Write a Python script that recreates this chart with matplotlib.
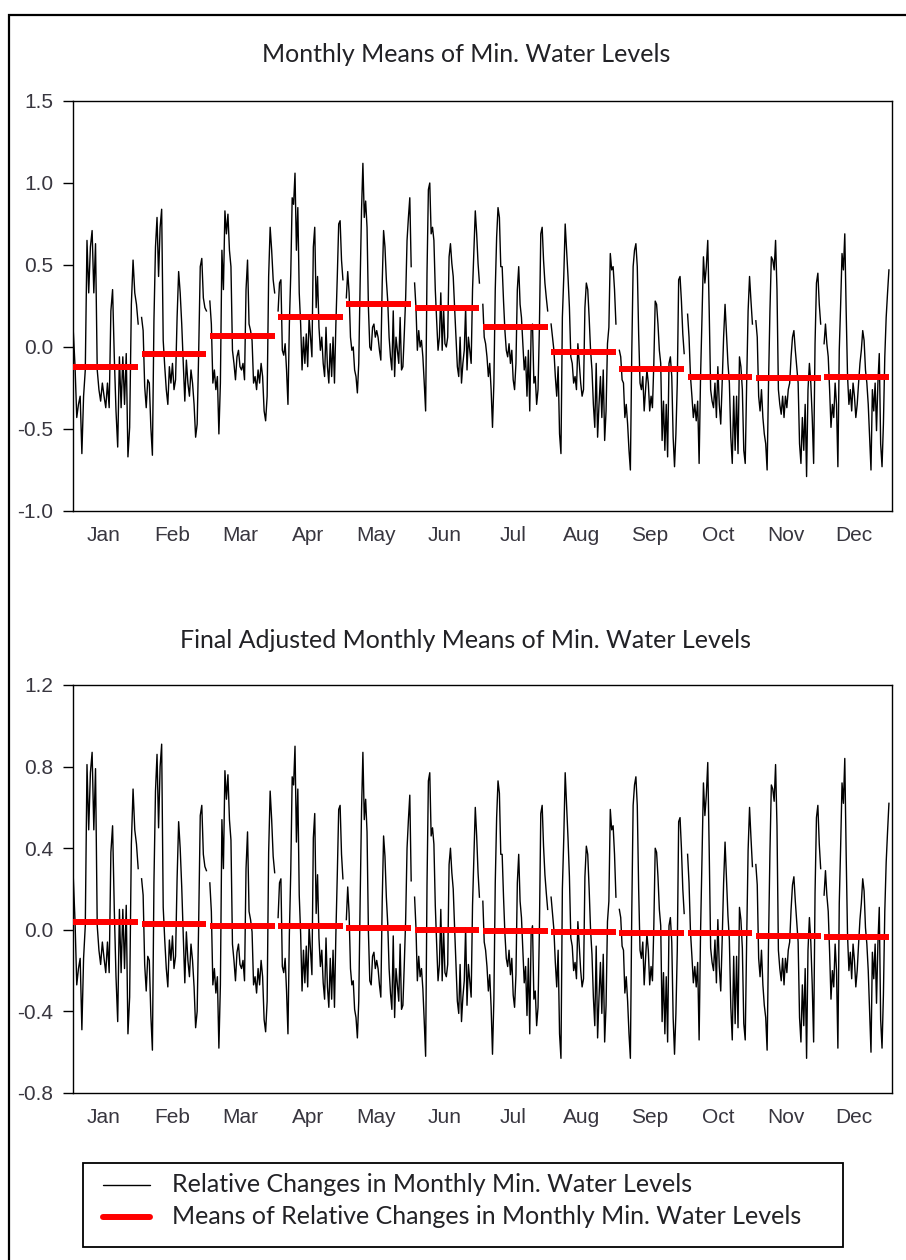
import numpy as np
import matplotlib.pyplot as plt
from matplotlib.lines import Line2D
from matplotlib.patches import Rectangle

month_labels = ['Jan', 'Feb', 'Mar', 'Apr', 'May', 'Jun',
                'Jul', 'Aug', 'Sep', 'Oct', 'Nov', 'Dec']

# relative changes in monthly min. water levels, one value per year
jan_raw = [0.09, -0.12, -0.43, -0.35, -0.30, -0.65, -0.30, -0.14, 0.65, 0.33, 0.61, 0.71, 0.33, 0.63, -0.14, -0.26, -0.33, -0.22, -0.30, -0.37, -0.22, -0.37, 0.22, 0.35, -0.06, -0.39, -0.61, -0.06, -0.37, -0.06, -0.35, -0.04, -0.67, -0.49, 0.26, 0.53, 0.33, 0.26, 0.14]
feb_raw = [0.18, 0.10, -0.24, -0.37, -0.20, -0.22, -0.49, -0.66, 0.16, 0.61, 0.79, 0.43, 0.73, 0.84, 0.04, -0.12, -0.26, -0.35, -0.12, -0.22, -0.10, -0.26, -0.20, 0.18, 0.46, 0.33, 0.14, -0.10, -0.33, -0.08, -0.22, -0.30, -0.14, -0.22, -0.35, -0.55, -0.47, -0.02, 0.49, 0.54, 0.30, 0.24, 0.22]
mar_raw = [0.28, 0.14, -0.22, -0.14, -0.26, -0.18, -0.53, -0.22, 0.59, 0.35, 0.83, 0.69, 0.81, 0.59, 0.49, -0.02, -0.10, -0.20, -0.06, -0.02, -0.12, -0.14, -0.10, -0.20, 0.35, 0.53, 0.14, 0.10, 0.04, -0.22, -0.18, -0.26, -0.14, -0.22, -0.10, -0.18, -0.39, -0.45, -0.30, 0.43, 0.73, 0.59, 0.41, 0.33]
apr_raw = [0.22, 0.39, 0.41, -0.02, -0.05, 0.02, -0.14, -0.35, 0.14, 0.45, 0.91, 0.87, 1.06, 0.59, 0.85, 0.33, 0.14, -0.14, 0.06, -0.10, 0.08, -0.12, 0.18, 0.06, -0.06, 0.61, 0.73, 0.24, 0.43, 0.12, -0.02, 0.06, -0.10, -0.18, 0.12, -0.12, -0.22, 0.02, -0.18, 0.06, -0.22, 0.14, 0.43, 0.75, 0.77, 0.53, 0.41]
may_raw = [0.30, 0.46, 0.33, 0.06, -0.02, 0.00, -0.14, -0.18, -0.28, -0.10, 0.39, 0.83, 1.12, 0.79, 0.89, 0.73, 0.24, 0.00, -0.02, 0.12, 0.14, 0.06, 0.10, 0.06, -0.02, -0.08, 0.39, 0.71, 0.61, 0.41, 0.28, 0.06, -0.06, -0.14, 0.22, -0.18, 0.06, -0.02, -0.10, 0.18, -0.14, -0.12, 0.08, 0.30, 0.65, 0.79, 0.91, 0.49]
jun_raw = [0.39, 0.24, -0.02, 0.10, 0.00, 0.04, -0.06, -0.22, -0.39, 0.45, 0.96, 1.00, 0.69, 0.73, 0.65, 0.35, 0.16, -0.02, 0.06, 0.33, -0.02, 0.24, 0.02, 0.00, 0.06, 0.55, 0.63, 0.51, 0.43, 0.24, 0.06, -0.12, -0.18, 0.06, -0.22, -0.10, -0.02, 0.24, -0.14, 0.06, -0.02, -0.10, 0.35, 0.59, 0.83, 0.69, 0.51, 0.39]
jul_raw = [0.26, 0.06, 0.02, -0.06, -0.18, -0.10, -0.26, -0.49, -0.22, 0.35, 0.67, 0.85, 0.79, 0.49, 0.49, 0.28, 0.10, -0.02, -0.06, 0.02, -0.10, -0.02, -0.20, -0.26, -0.10, 0.35, 0.49, 0.26, 0.18, 0.02, -0.14, -0.06, -0.30, -0.02, -0.39, 0.10, 0.14, -0.22, -0.18, -0.35, -0.26, 0.12, 0.69, 0.73, 0.53, 0.39, 0.30, 0.22]
aug_raw = [0.14, 0.06, -0.02, -0.18, -0.30, -0.12, -0.53, -0.65, 0.18, 0.43, 0.75, 0.59, 0.43, 0.24, -0.06, -0.10, -0.22, -0.18, -0.26, 0.02, -0.10, -0.22, -0.30, -0.26, 0.24, 0.39, 0.35, 0.18, -0.02, -0.14, -0.35, -0.49, -0.10, -0.55, -0.35, -0.18, -0.43, -0.14, -0.57, -0.39, 0.02, 0.12, 0.57, 0.47, 0.49, 0.35, 0.14]
sep_raw = [-0.02, -0.06, -0.20, -0.22, -0.43, -0.35, -0.47, -0.63, -0.75, -0.04, 0.49, 0.59, 0.63, 0.49, 0.08, -0.22, -0.26, -0.18, -0.39, -0.26, -0.14, -0.22, -0.39, -0.30, -0.37, -0.10, 0.28, 0.26, 0.14, -0.02, -0.10, -0.57, -0.33, -0.63, -0.35, -0.67, -0.10, -0.06, -0.18, -0.55, -0.73, -0.53, -0.22, 0.41, 0.43, 0.28, 0.08, -0.04]
oct_raw = [0.20, 0.06, -0.18, -0.30, -0.43, -0.35, -0.45, -0.33, -0.71, -0.18, 0.18, 0.55, 0.39, 0.49, 0.65, 0.22, -0.26, -0.33, -0.37, -0.22, -0.43, -0.12, -0.35, -0.47, -0.22, 0.06, 0.26, 0.08, -0.10, -0.22, -0.55, -0.71, -0.30, -0.63, -0.30, -0.65, -0.06, -0.12, -0.26, -0.63, -0.71, -0.22, 0.22, 0.43, 0.28, 0.14]
nov_raw = [0.16, 0.06, -0.30, -0.39, -0.26, -0.43, -0.53, -0.59, -0.75, -0.22, 0.22, 0.55, 0.53, 0.47, 0.65, 0.35, -0.26, -0.35, -0.41, -0.30, -0.43, -0.30, -0.37, -0.26, -0.22, -0.06, 0.06, 0.10, -0.02, -0.12, -0.22, -0.59, -0.71, -0.43, -0.63, -0.35, -0.79, -0.26, -0.10, -0.22, -0.43, -0.71, 0.02, 0.39, 0.45, 0.26, 0.14]
dec_raw = [0.02, 0.14, 0.02, -0.06, -0.26, -0.49, -0.35, -0.43, -0.22, -0.35, -0.73, -0.02, 0.26, 0.57, 0.47, 0.69, 0.22, -0.18, -0.35, -0.26, -0.39, -0.22, -0.30, -0.43, -0.35, -0.22, -0.10, -0.02, 0.10, 0.04, -0.14, -0.22, -0.35, -0.55, -0.75, -0.26, -0.39, -0.22, -0.51, -0.22, -0.04, -0.59, -0.73, -0.47, -0.06, 0.18, 0.33, 0.47]

# final adjusted series
jan_adj = [0.25, 0.04, -0.27, -0.19, -0.14, -0.49, -0.14, 0.02, 0.81, 0.49, 0.77, 0.87, 0.49, 0.79, 0.02, -0.10, -0.17, -0.06, -0.14, -0.21, -0.06, -0.21, 0.38, 0.51, 0.10, -0.23, -0.45, 0.10, -0.21, 0.10, -0.19, 0.12, -0.51, -0.33, 0.42, 0.69, 0.49, 0.42, 0.30]
feb_adj = [0.25, 0.17, -0.17, -0.30, -0.13, -0.15, -0.42, -0.59, 0.23, 0.68, 0.86, 0.50, 0.80, 0.91, 0.11, -0.05, -0.19, -0.28, -0.05, -0.15, -0.03, -0.19, -0.13, 0.25, 0.53, 0.40, 0.21, -0.03, -0.26, -0.01, -0.15, -0.23, -0.07, -0.15, -0.28, -0.48, -0.40, 0.05, 0.56, 0.61, 0.37, 0.31, 0.29]
mar_adj = [0.23, 0.09, -0.27, -0.19, -0.31, -0.23, -0.58, -0.27, 0.54, 0.30, 0.78, 0.64, 0.76, 0.54, 0.44, -0.07, -0.15, -0.25, -0.11, -0.07, -0.17, -0.19, -0.15, -0.25, 0.30, 0.48, 0.09, 0.05, -0.01, -0.27, -0.23, -0.31, -0.19, -0.27, -0.15, -0.23, -0.44, -0.50, -0.35, 0.38, 0.68, 0.54, 0.36, 0.28]
apr_adj = [0.06, 0.23, 0.25, -0.18, -0.21, -0.14, -0.30, -0.51, -0.02, 0.29, 0.75, 0.71, 0.90, 0.43, 0.69, 0.17, -0.02, -0.30, -0.10, -0.26, -0.08, -0.28, 0.02, -0.10, -0.22, 0.45, 0.57, 0.08, 0.27, -0.04, -0.18, -0.10, -0.26, -0.34, -0.04, -0.28, -0.38, -0.14, -0.34, -0.10, -0.38, -0.02, 0.27, 0.59, 0.61, 0.37, 0.25]
may_adj = [0.05, 0.21, 0.08, -0.19, -0.27, -0.25, -0.39, -0.43, -0.53, -0.35, 0.14, 0.58, 0.87, 0.54, 0.64, 0.48, -0.01, -0.25, -0.27, -0.13, -0.11, -0.19, -0.15, -0.19, -0.27, -0.33, 0.14, 0.46, 0.36, 0.16, 0.03, -0.19, -0.31, -0.39, -0.03, -0.43, -0.19, -0.27, -0.35, -0.07, -0.39, -0.37, -0.17, 0.05, 0.40, 0.54, 0.66, 0.24]
jun_adj = [0.16, 0.01, -0.25, -0.13, -0.23, -0.19, -0.29, -0.45, -0.62, 0.22, 0.73, 0.77, 0.46, 0.50, 0.42, 0.12, -0.07, -0.25, -0.17, 0.10, -0.25, 0.01, -0.21, -0.23, -0.17, 0.32, 0.40, 0.28, 0.20, 0.01, -0.17, -0.35, -0.41, -0.17, -0.45, -0.33, -0.25, 0.01, -0.37, -0.17, -0.25, -0.33, 0.12, 0.36, 0.60, 0.46, 0.28, 0.16]
jul_adj = [0.14, -0.06, -0.10, -0.18, -0.30, -0.22, -0.38, -0.61, -0.34, 0.23, 0.55, 0.73, 0.67, 0.37, 0.37, 0.16, -0.02, -0.14, -0.18, -0.10, -0.22, -0.14, -0.32, -0.38, -0.22, 0.23, 0.37, 0.14, 0.06, -0.10, -0.26, -0.18, -0.42, -0.14, -0.51, -0.02, 0.02, -0.34, -0.30, -0.47, -0.38, 0.00, 0.57, 0.61, 0.41, 0.27, 0.18, 0.10]
aug_adj = [0.16, 0.08, 0.00, -0.16, -0.28, -0.10, -0.51, -0.63, 0.20, 0.45, 0.77, 0.61, 0.45, 0.26, -0.04, -0.08, -0.20, -0.16, -0.24, 0.04, -0.08, -0.20, -0.28, -0.24, 0.26, 0.41, 0.37, 0.20, 0.00, -0.12, -0.33, -0.47, -0.08, -0.53, -0.33, -0.16, -0.41, -0.12, -0.55, -0.37, 0.04, 0.14, 0.59, 0.49, 0.51, 0.37, 0.16]
sep_adj = [0.10, 0.06, -0.08, -0.10, -0.31, -0.23, -0.35, -0.51, -0.63, 0.08, 0.61, 0.71, 0.75, 0.61, 0.20, -0.10, -0.14, -0.06, -0.27, -0.14, -0.02, -0.10, -0.27, -0.18, -0.25, 0.02, 0.40, 0.38, 0.26, 0.10, 0.02, -0.45, -0.21, -0.51, -0.23, -0.55, 0.02, 0.06, -0.06, -0.43, -0.61, -0.41, -0.10, 0.53, 0.55, 0.40, 0.20, 0.08]
oct_adj = [0.37, 0.23, -0.01, -0.13, -0.26, -0.18, -0.28, -0.16, -0.54, -0.01, 0.35, 0.72, 0.56, 0.66, 0.82, 0.39, -0.09, -0.16, -0.20, -0.05, -0.26, 0.05, -0.18, -0.30, -0.05, 0.23, 0.43, 0.25, 0.07, -0.05, -0.38, -0.54, -0.13, -0.46, -0.13, -0.48, 0.11, 0.05, -0.09, -0.46, -0.54, -0.05, 0.39, 0.60, 0.45, 0.31]
nov_adj = [0.32, 0.22, -0.14, -0.23, -0.10, -0.27, -0.37, -0.43, -0.59, -0.06, 0.38, 0.71, 0.69, 0.63, 0.81, 0.51, -0.10, -0.19, -0.25, -0.14, -0.27, -0.14, -0.21, -0.10, -0.06, 0.10, 0.22, 0.26, 0.14, 0.04, -0.06, -0.43, -0.55, -0.27, -0.47, -0.19, -0.63, -0.10, 0.06, -0.06, -0.27, -0.55, 0.18, 0.55, 0.61, 0.42, 0.30]
dec_adj = [0.17, 0.29, 0.17, 0.09, -0.11, -0.34, -0.20, -0.28, -0.07, -0.20, -0.58, 0.13, 0.41, 0.72, 0.62, 0.84, 0.37, -0.03, -0.20, -0.11, -0.24, -0.07, -0.15, -0.28, -0.20, -0.07, 0.05, 0.13, 0.25, 0.19, 0.01, -0.07, -0.20, -0.40, -0.60, -0.11, -0.24, -0.07, -0.36, -0.07, 0.11, -0.44, -0.58, -0.32, 0.09, 0.33, 0.48, 0.62]

# red mean levels per month
raw_means = [-0.12, -0.04, 0.065, 0.18, 0.265, 0.235, 0.12, -0.03, -0.135, -0.18, -0.19, -0.18]
adj_means = [0.04, 0.03, 0.02, 0.02, 0.01, 0.0, -0.005, -0.01, -0.015, -0.015, -0.03, -0.035]

raw_series = [jan_raw, feb_raw, mar_raw, apr_raw, may_raw, jun_raw,
              jul_raw, aug_raw, sep_raw, oct_raw, nov_raw, dec_raw]
adj_series = [jan_adj, feb_adj, mar_adj, apr_adj, may_adj, jun_adj,
              jul_adj, aug_adj, sep_adj, oct_adj, nov_adj, dec_adj]

legend_labels = ['Relative Changes in Monthly Min. Water Levels',
                 'Means of Relative Changes in Monthly Min. Water Levels']

W, H = 906, 1260
TICK_FONT = ['Liberation Sans', 'DejaVu Sans']
TITLE_FONT = ['Lato', 'DejaVu Sans']
TEXT_COL = '#38363f'
TITLE_COL = '#222226'
RED = '#ff0000'
SPAN = 0.955  # share of each month slot covered by its years


def seasonal_panel(ax, series, means, ylim, yticks):
    for m, vals in enumerate(series):
        xs = m + np.linspace(0.005, SPAN, len(vals))
        ax.plot(xs, vals, color='black', lw=1.0, zorder=2)
        ax.plot([m + 0.005, m + SPAN], [means[m], means[m]], color=RED,
                lw=4.3, solid_capstyle='butt', zorder=3)
    ax.set_xlim(0, 12)
    ax.set_ylim(*ylim)
    ax.set_yticks(yticks)
    ax.set_yticklabels([f'{t:.1f}' for t in yticks], family=TICK_FONT,
                       fontsize=15, color=TEXT_COL)
    ax.set_xticks(np.arange(12) + SPAN / 2 - 0.03)
    ax.set_xticklabels(month_labels, family=TICK_FONT, fontsize=15, color=TEXT_COL)
    ax.tick_params(axis='x', length=0, pad=11)
    ax.tick_params(axis='y', direction='out', length=7, width=1, pad=7)
    for s in ax.spines.values():
        s.set_linewidth(1.0)


def px(x, y):
    # figure fraction from pixel position measured from the top-left corner
    return x / W, 1 - y / H


fig = plt.figure(figsize=(W / 100, H / 100), dpi=100)

ax1 = fig.add_axes([73 / W, 1 - 511 / H, (892 - 73) / W, (511 - 101) / H])
seasonal_panel(ax1, raw_series, raw_means, (-1.0, 1.5), [-1.0, -0.5, 0.0, 0.5, 1.0, 1.5])

ax2 = fig.add_axes([73 / W, 1 - 1093 / H, (892 - 73) / W, (1093 - 685) / H])
seasonal_panel(ax2, adj_series, adj_means, (-0.8, 1.2), [-0.8, -0.4, 0.0, 0.4, 0.8, 1.2])

fig.text(*px(466, 55), 'Monthly Means of Min. Water Levels', ha='center', va='center',
         family=TITLE_FONT, fontsize=18, color=TITLE_COL)
fig.text(*px(466, 640), 'Final Adjusted Monthly Means of Min. Water Levels',
         ha='center', va='center', family=TITLE_FONT, fontsize=18, color=TITLE_COL)

# legend box below the panels
fig.add_artist(Rectangle(px(83, 1247), (843 - 83) / W, (1247 - 1163) / H,
                         transform=fig.transFigure, fill=False, edgecolor='black', lw=1.3))
for row, (lbl, col, lw) in enumerate(zip(legend_labels, ['black', RED], [1.0, 4.3])):
    yy = 1185 + 32 * row
    x0, y0 = px(103, yy)
    x1, _ = px(150, yy)
    fig.add_artist(Line2D([x0, x1], [y0, y0], transform=fig.transFigure, color=col,
                          lw=lw, solid_capstyle='round'))
    fig.text(*px(172, yy), lbl, ha='left', va='center', family=TITLE_FONT,
             fontsize=18, color=TITLE_COL)

# outer frame of the exported graph (cut off at the right and bottom)
fig.add_artist(Rectangle((9 / W, -0.1), 1.2, 1 - 15 / H + 0.1, transform=fig.transFigure,
                         fill=False, edgecolor='black', lw=1.6, clip_on=False))

fig.savefig('out.png', dpi=100)
